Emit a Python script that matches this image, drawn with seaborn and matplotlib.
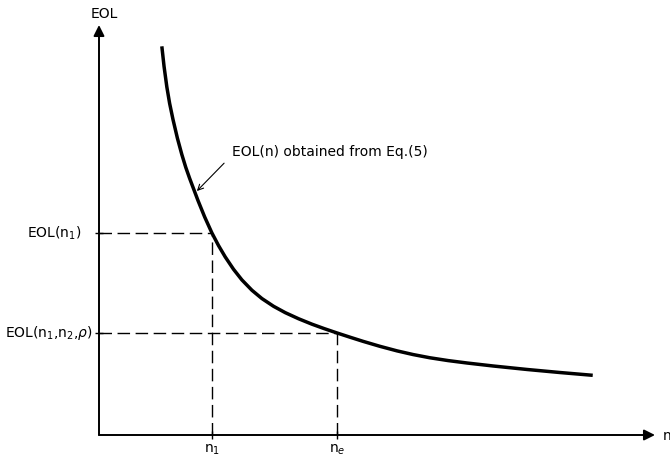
import numpy as np
import pandas as pd
import matplotlib
matplotlib.use("Agg")
import matplotlib.pyplot as plt
import seaborn as sns

# curve (arbitrary units)
n_vals = [1.13, 1.17, 1.22, 1.27, 1.33, 1.41, 1.49, 1.56, 1.63, 1.78, 1.90,
          2.03, 2.15, 2.27, 2.42, 2.57, 2.75, 2.93, 3.14, 3.35, 3.59, 3.83,
          4.05, 4.28, 4.52, 4.75, 5.05, 5.36, 5.65, 5.95, 6.28, 6.62, 7.09,
          7.70, 8.29, 8.88]
eol_vals = [9.48, 8.99, 8.49, 8.09, 7.70, 7.24, 6.84, 6.53, 6.26, 5.72, 5.32,
            4.93, 4.620, 4.344, 4.041, 3.783, 3.531, 3.328, 3.139, 2.984, 2.835, 2.703,
            2.595, 2.489, 2.383, 2.284, 2.164, 2.052, 1.962, 1.884, 1.815, 1.756, 1.683,
            1.598, 1.524, 1.456]

n1, eol_n1 = 2.03, 4.93
ne, eol_ne = 4.28, 2.489

df = pd.DataFrame({"n": n_vals, "EOL": eol_vals})

sns.set_style("white")
plt.rcParams["font.family"] = ["DejaVu Sans"]
plt.rcParams["text.color"] = "black"

fig = plt.figure(figsize=(6.70, 4.63), dpi=100)
ax = fig.add_axes([99 / 670, 28 / 463, 556 / 670, 410 / 463])
ax.set_xlim(0, 10)
ax.set_ylim(0, 10)
for s in ax.spines.values():
    s.set_visible(False)

sns.lineplot(data=df, x="n", y="EOL", ax=ax, color="black", lw=2.5,
             sort=False, estimator=None, solid_joinstyle="round",
             solid_capstyle="butt")

# axes with arrowheads
arrow = dict(arrowstyle="-|>", lw=1.4, color="black", mutation_scale=16,
             shrinkA=0, shrinkB=0)
ax.annotate("", xy=(10, 0), xytext=(0, 0), arrowprops=arrow, annotation_clip=False)
ax.annotate("", xy=(0, 10), xytext=(0, 0), arrowprops=arrow, annotation_clip=False)

# dashed guide lines
dash = dict(color="black", lw=1.0, linestyle=(0, (9, 4)))
ax.plot([0, n1], [eol_n1, eol_n1], **dash)
ax.plot([n1, n1], [0, eol_n1], **dash)
ax.plot([0, ne], [eol_ne, eol_ne], **dash)
ax.plot([ne, ne], [0, eol_ne], **dash)

# small ticks
ax.set_xticks([n1, ne])
ax.set_yticks([eol_n1, eol_ne])
ax.set_xticklabels([])
ax.set_yticklabels([])
ax.tick_params(direction="inout", length=6, width=1, colors="black",
               bottom=True, left=True)
ax.set_xlabel("")
ax.set_ylabel("")

fs = 10
ax.text(0.1, 10.28, "EOL", ha="center", va="center", fontsize=fs)
ax.text(10.14, -0.03, "n", ha="left", va="center", fontsize=fs)
ax.text(-0.31, eol_n1, r"EOL(n$_1$)", ha="right", va="center", fontsize=fs)
ax.text(-0.12, eol_ne, r"EOL(n$_1$,n$_2$,$\rho$)", ha="right", va="center", fontsize=fs)
ax.text(n1, -0.19, r"n$_1$", ha="center", va="top", fontsize=fs)
ax.text(ne, -0.19, r"n$_e$", ha="center", va="top", fontsize=fs)

ax.text(2.40, 6.90, "EOL(n) obtained from Eq.(5)", fontsize=fs,
        ha="left", va="center")
ax.annotate("", xy=(1.76, 5.95), xytext=(2.25, 6.63),
            arrowprops=dict(arrowstyle="->", lw=0.8, color="black",
                            shrinkA=0, shrinkB=0),
            annotation_clip=False)

fig.savefig("out.png", dpi=100)
